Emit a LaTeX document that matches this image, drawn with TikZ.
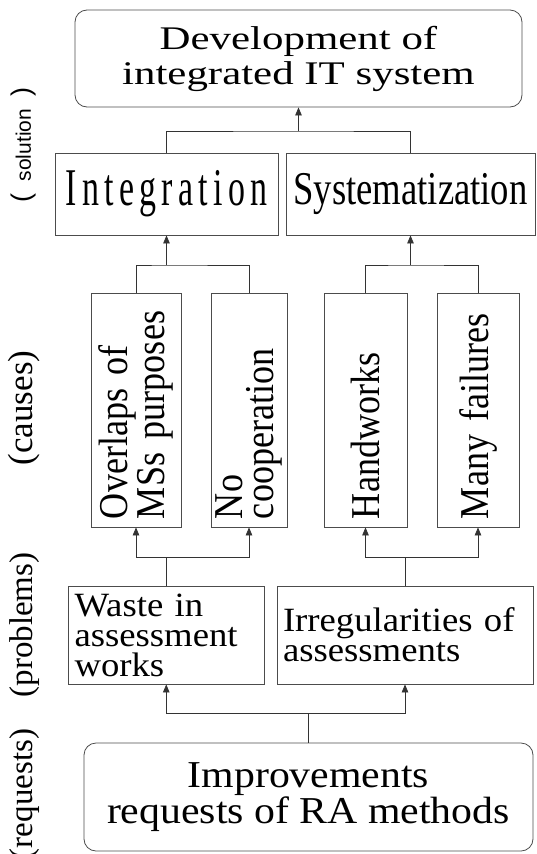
\documentclass[tikz,border=0pt]{standalone}
\usepackage{fontspec}
\setmainfont{Liberation Serif}
\newfontfamily\goalfont[FakeStretch=1.3]{Liberation Serif}
\newfontfamily\reqfont[FakeStretch=1.1]{Liberation Serif}
\newfontfamily\intfont[FakeStretch=0.64,LetterSpace=10]{Liberation Serif}
\newfontfamily\sysfont[FakeStretch=0.78]{Liberation Serif}
\newfontfamily\causefont[FakeStretch=0.88]{Liberation Serif}
\newfontfamily\probfont[FakeStretch=1.08]{Liberation Serif}
\newfontfamily\sidesans{Liberation Sans}
\usetikzlibrary{arrows.meta}

\begin{document}
\begin{tikzpicture}[
    x=1pt, y=-1pt,
    box/.style={
        draw=black!70,
        line width=0.8pt,
        inner xsep=6pt,
        inner ysep=0pt
    },
    roundbox/.style={
        box,
        rounded corners=12pt,
        align=center
    },
    causebox/.style={
        box,
        rotate=90,
        minimum width=234pt,
        text width=218pt,
        inner xsep=8pt,
        align=left,
        font=\causefont\fontsize{41}{31}\selectfont
    },
    probbox/.style={
        box,
        minimum height=98pt,
        align=left,
        font=\probfont\fontsize{34}{30}\selectfont
    },
    sidelabel/.style={
        rotate=90,
        inner sep=0pt
    },
    link/.style={
        draw=black!80,
        line width=0.8pt
    },
    arrow/.style={
        link,
        -{Triangle[length=8pt,width=6.5pt]}
    }
]
\useasboundingbox (0,0) rectangle (536,854);

% solution
\node[roundbox, minimum width=447pt, minimum height=97pt,
    font=\goalfont\fontsize{33}{35}\selectfont] (goal) at (298.5,58.5)
{Development of\\integrated IT system};

\node[box, minimum width=223pt, minimum height=82pt,
    font=\intfont\fontsize{53}{53}\selectfont] (integ) at (166.5,194)
{Integration};

\node[box, minimum width=249pt, minimum height=82pt,
    font=\sysfont\fontsize{47}{47}\selectfont] (syst) at (410.5,194)
{Systematization};

% causes
\node[causebox, minimum height=90pt] (overlap) at (136,410)
{Overlaps of\\MSs purposes};
\node[causebox, minimum height=76pt] (nocoop) at (249,410)
{No\\cooperation};
\node[causebox, minimum height=83pt] (hand) at (365.5,410)
{Handworks};
\node[causebox, minimum height=82pt] (fail) at (478,410)
{Many failures};

% problems
\node[probbox, text width=183.5pt] (waste) at (166.25,635)
{Waste in\\assessment\\works};
\node[probbox, text width=244pt] (irreg) at (405,635)
{Irregularities of\\assessments};

% requests
\node[roundbox, minimum width=449pt, minimum height=108pt,
    font=\reqfont\fontsize{38}{36}\selectfont] (req) at (308.5,797)
{Improvements\\requests of RA methods};

% side labels
\node[sidelabel, font=\sidesans\fontsize{21}{21}\selectfont] (lsol) at (24,145)
{{\fontsize{27}{27}\selectfont(}\hspace{0.6em}solution\hspace{0.6em}{\fontsize{27}{27}\selectfont)}};
\node[sidelabel, font=\fontsize{35}{35}\selectfont] (lcau) at (24,408) {(causes)};
\node[sidelabel, font=\fontsize{33}{33}\selectfont] (lpro) at (25,625) {(problems)};
\node[sidelabel, font=\fontsize{33}{33}\selectfont] (lreq) at (25,794) {(requests)};

% connectors
\coordinate (busA) at (298.5,131);
\draw[link] (integ.north) |- (busA) -| (syst.north);
\draw[arrow] (busA) -- (goal.south);

\coordinate (busB) at (166.5,265);
\draw[link] (overlap.east) |- (busB) -| (nocoop.east);
\draw[arrow] (busB) -- (integ.south);
\coordinate (busC) at (410.5,265);
\draw[link] (hand.east) |- (busC) -| (fail.east);
\draw[arrow] (busC) -- (syst.south);

\coordinate (busD) at (166.25,557);
\draw[link] (waste.north) -- (busD);
\draw[arrow] (busD) -| (overlap.west);
\draw[arrow] (busD) -| (nocoop.west);
\coordinate (busE) at (405,557);
\draw[link] (irreg.north) -- (busE);
\draw[arrow] (busE) -| (hand.west);
\draw[arrow] (busE) -| (fail.west);

\coordinate (busF) at (308.5,713);
\draw[link] (req.north) -- (busF);
\draw[arrow] (busF) -| (waste.south);
\draw[arrow] (busF) -| (irreg.south);

\end{tikzpicture}
\end{document}
